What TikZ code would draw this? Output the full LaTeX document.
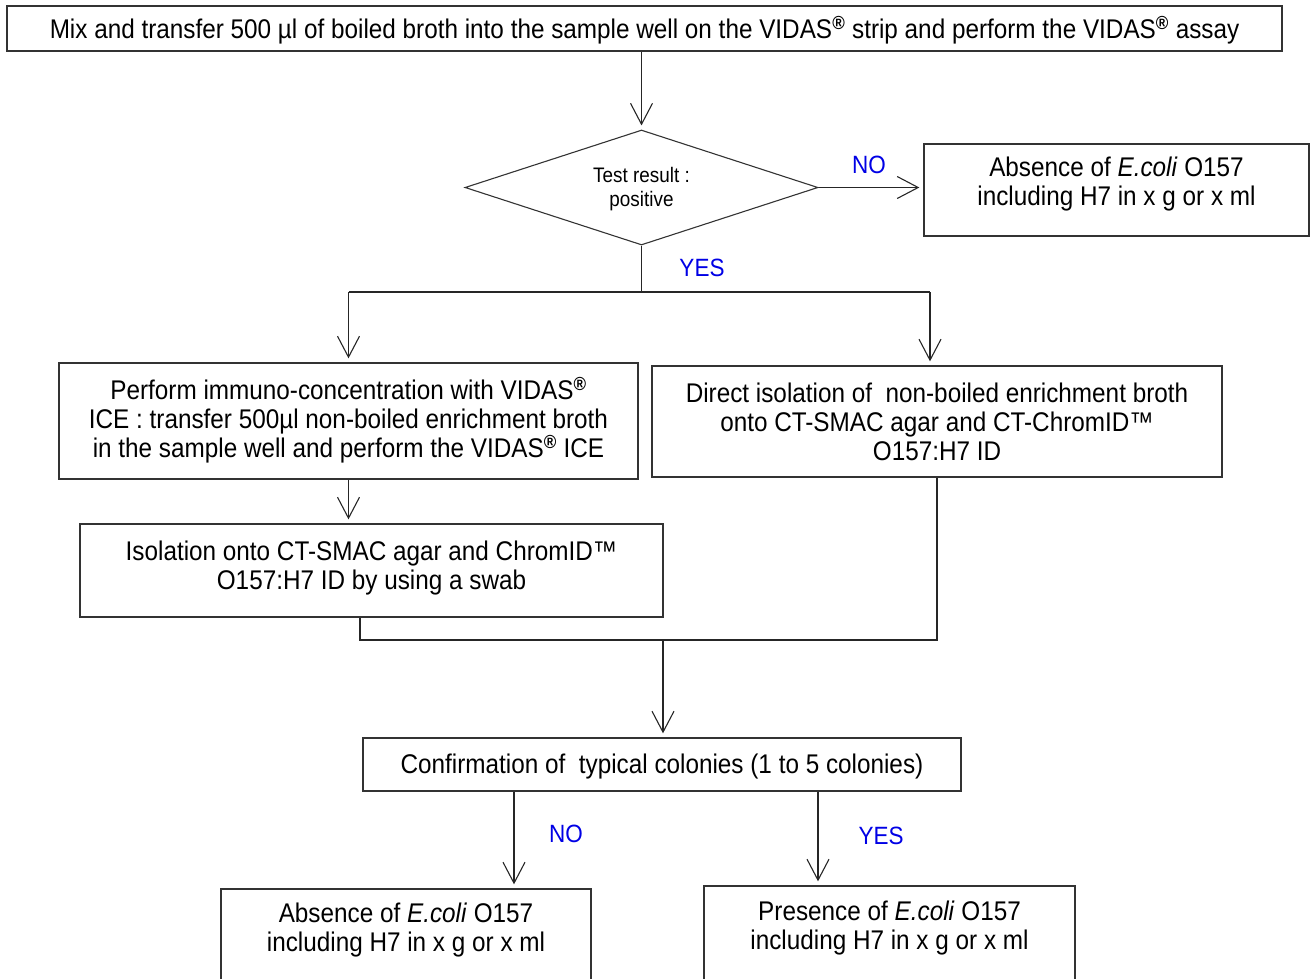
\documentclass[tikz,border=0pt]{standalone}
\usepackage{fontspec}
\setmainfont{Liberation Sans}[FakeStretch=0.9]
\usetikzlibrary{arrows.meta,shapes.geometric}
\newcommand{\regm}{\textsuperscript{\textbf{®}}}
\begin{document}
\begin{tikzpicture}[x=1pt,y=-1pt,
  box/.style={draw=black!80, line width=1.3pt, rectangle, align=center, inner sep=0pt, font=\fontsize{27}{29}\selectfont},
  con/.style={draw=black!85, line width=1.1pt},
  arr/.style={con, shorten >=4pt, -{Straight Barb[length=21pt,width=22pt,line width=1.1pt]}},
  lab/.style={text=blue!90!black, font=\fontsize{25}{29}\selectfont, inner sep=0pt}
]
\useasboundingbox (0,0) rectangle (1311,978);

\node[box, minimum width=1275, minimum height=45, text depth=2pt] (top) at (644.5,28.5)
  {Mix and transfer 500 µl of boiled broth into the sample well on the VIDAS\regm{} strip and perform the VIDAS\regm{} assay};

\node[diamond, shape aspect=3, draw=black!80, line width=1.1pt, minimum width=353, minimum height=115, inner sep=0pt, align=center, font=\fontsize{21}{24}\selectfont, text depth=2pt] (dia) at (641.5,187.5)
  {Test result :\\positive};

\node[box, minimum width=385, minimum height=92, text depth=18pt] (box2) at (1116.5,190)
  {Absence of \textit{E.coli} O157\\including H7 in x g or x ml};

\node[box, minimum width=579, minimum height=116, text depth=8pt] (box3) at (348.5,421)
  {Perform immuno-concentration with VIDAS\regm\\ICE : transfer 500µl non-boiled enrichment broth\\in the sample well and perform the VIDAS\regm{} ICE};

\node[box, minimum width=570, minimum height=111] (box4) at (937,421.5)
  {Direct isolation of \ non-boiled enrichment broth\\onto CT-SMAC agar and CT-ChromID™\\O157:H7 ID};

\node[box, minimum width=583, minimum height=93, text depth=10pt] (box5) at (371.5,570.5)
  {Isolation onto CT-SMAC agar and ChromID™\\O157:H7 ID by using a swab};

\node[box, minimum width=598, minimum height=53, text depth=2pt] (box6) at (662,764.5)
  {Confirmation of \ typical colonies (1 to 5 colonies)};

\node[box, minimum width=370, minimum height=96, text depth=20pt] (box7) at (406,937)
  {Absence of \textit{E.coli} O157\\including H7 in x g or x ml};

\node[box, minimum width=371, minimum height=99, text depth=20pt] (box8) at (889.5,935.5)
  {Presence of \textit{E.coli} O157\\including H7 in x g or x ml};

% labels
\node[lab] (lno1) at (869,165) {NO};
\node[lab] (lyes1) at (702,268) {YES};
\node[lab] (lno2) at (566,834) {NO};
\node[lab] (lyes2) at (881,836) {YES};

% connectors
\draw[arr] (top.south -| dia.north) -- (dia.north);
\draw[arr] (dia.east) -- (dia.east -| box2.west);

\coordinate (sp) at (643,292);
\coordinate (yl) at (348.5,292);
\coordinate (yr) at (930,292);
\draw[con] (dia.south) -- (dia.south |- sp);
\draw[con] (yl) -- (yr);
\draw[arr] (yl) -- (yl |- box3.north);
\draw[arr] (yr) -- (yr |- box4.north);

\draw[arr] (box3.south) -- (box3.south |- box5.north);

\coordinate (m1) at (360,640);
\coordinate (m2) at (937,640);
\coordinate (m3) at (663,640);
\draw[con] (box5.south -| m1) -- (m1) -- (m2) -- (box4.south);
\draw[arr] (m3) -- (m3 |- box6.north);

\coordinate (c1) at (514,0);
\coordinate (c2) at (818,0);
\draw[arr] (c1 |- box6.south) -- (c1 |- box7.north);
\draw[arr] (c2 |- box6.south) -- (c2 |- box8.north);
\end{tikzpicture}
\end{document}
